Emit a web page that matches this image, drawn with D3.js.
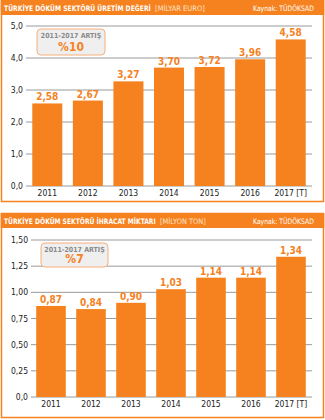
<!DOCTYPE html>
<html>
<head>
<meta charset="utf-8">
<script src="https://cdn.jsdelivr.net/npm/d3@7"></script>
<style>
  body { margin: 0; background: #fff; }
  text { font-family: "DejaVu Sans Condensed", "DejaVu Sans", sans-serif; }
</style>
</head>
<body>
<script>
var width = 325,
    height = 420;

var orange = "#f5821f";

// years on the x axis
var years = ["2011", "2012", "2013", "2014", "2015", "2016", "2017 [T]"];

// production value, billion euro
var uretim = [2.58, 2.67, 3.27, 3.70, 3.72, 3.96, 4.58];
var uretimTicks = [0, 1, 2, 3, 4, 5];
var uretimTickLabels = ["0,0", "1,0", "2,0", "3,0", "4,0", "5,0"];

// export amount, million ton
var ihracat = [0.87, 0.84, 0.90, 1.03, 1.14, 1.14, 1.34];
var ihracatTicks = [0, 0.25, 0.5, 0.75, 1, 1.25, 1.5];
var ihracatTickLabels = ["0,0", "0,25", "0,50", "0,75", "1,00", "1,25", "1,50"];

var svg = d3.select("body").append("svg")
    .attr("width", width)
    .attr("height", height)

// header text squeezed horizontally to a given width
function squeezed(g, str, x0, y0, w, bold, fill) {
    var t = g.append("text")
        .attr("font-size", 7.5)
        .attr("font-weight", bold ? "bold" : "normal")
        .attr("fill", fill)
        .text(str)
    var nat = t.node().getComputedTextLength()
    t.attr("transform", "translate(" + x0 + "," + y0 + ") scale(" + (w / nat) + ",1)")
}

function panel(o) {
    var g = svg.append("g")

    /* border and header bar */
    g.append("rect")
        .attr("x", 1.5).attr("y", o.top + 0.5)
        .attr("width", width - 3).attr("height", o.bottom - o.top - 1)
        .attr("fill", "none").attr("stroke", orange).attr("stroke-width", 1.5)
    g.append("rect")
        .attr("x", 0.75).attr("y", o.top)
        .attr("width", width - 1.5).attr("height", 15)
        .attr("fill", orange)

    squeezed(g, o.title, 4, o.top + 10.5, o.titleLen, true, "#fff")
    squeezed(g, o.unit, 4 + o.titleLen + 4, o.top + 10.5, o.unitLen, false, "#fde2c8")
    squeezed(g, "Kaynak: TÜDÖKSAD", 253, o.top + 10.5, 61, false, "#fff")

    var x = d3.scaleBand()
        .domain(years)
        .range(o.xRange)
        .paddingInner(0.26)
        .paddingOuter(0.13)

    var y = d3.scaleLinear()
        .domain([0, o.ticks[o.ticks.length - 1]])
        .range([o.y0, o.y1])

    /* grid lines */
    g.selectAll(".grid")
        .data(o.ticks)
        .enter().append("line")
        .attr("x1", o.gridX).attr("x2", 312)
        .attr("y1", function (d) { return y(d) })
        .attr("y2", function (d) { return y(d) })
        .attr("stroke", "#9a9a9a").attr("stroke-width", 1)

    g.selectAll(".ytick")
        .data(o.ticks)
        .enter().append("text")
        .attr("x", o.gridX - 3)
        .attr("y", function (d) { return y(d) + 3 })
        .attr("text-anchor", "end")
        .attr("font-size", 8.5)
        .attr("fill", "#222")
        .text(function (d, i) { return o.tickLabels[i] })

    /* bars */
    g.selectAll(".bar")
        .data(o.values)
        .enter().append("rect")
        .attr("x", function (d, i) { return x(years[i]) })
        .attr("y", function (d) { return y(d) })
        .attr("width", x.bandwidth())
        .attr("height", function (d) { return y(0) - y(d) })
        .attr("fill", orange)

    g.selectAll(".val")
        .data(o.values)
        .enter().append("text")
        .attr("x", function (d, i) { return x(years[i]) + x.bandwidth() / 2 })
        .attr("y", function (d) { return y(d) - 3 })
        .attr("text-anchor", "middle")
        .attr("font-size", 10).attr("font-weight", "bold")
        .attr("fill", orange)
        .text(function (d) { return d3.format(".2f")(d).replace(".", ",") })

    g.selectAll(".xlab")
        .data(years)
        .enter().append("text")
        .attr("x", function (d) { return x(d) + x.bandwidth() / 2 })
        .attr("y", y(0) + 10)
        .attr("text-anchor", "middle")
        .attr("font-size", 8.5)
        .attr("fill", "#222")
        .text(function (d) { return d })

    /* growth box */
    var b = o.box
    g.append("rect")
        .attr("x", b[0]).attr("y", b[1])
        .attr("width", b[2]).attr("height", b[3])
        .attr("rx", 4)
        .attr("fill", "#efefef").attr("stroke", "#f6b07a").attr("stroke-width", 1)
    g.append("text")
        .attr("x", b[0] + b[2] / 2).attr("y", b[1] + 8.5)
        .attr("text-anchor", "middle")
        .attr("font-size", 7).attr("font-weight", "bold")
        .attr("fill", "#8a8a8a")
        .text("2011-2017 ARTIŞ")
    g.append("text")
        .attr("x", b[0] + b[2] / 2).attr("y", b[1] + b[3] - 4)
        .attr("text-anchor", "middle")
        .attr("font-size", 12).attr("font-weight", "bold")
        .attr("fill", orange)
        .text(o.growth)
}

panel({
    top: 0, bottom: 202,
    title: "TÜRKİYE DÖKÜM SEKTÖRÜ ÜRETİM DEĞERİ", titleLen: 147,
    unit: "[MİLYAR EURO]", unitLen: 50,
    values: uretim, ticks: uretimTicks, tickLabels: uretimTickLabels,
    y0: 186, y1: 26, gridX: 26, xRange: [27, 311],
    box: [37, 29, 68, 26], growth: "%10"
})

panel({
    top: 213, bottom: 418,
    title: "TÜRKİYE DÖKÜM SEKTÖRÜ İHRACAT MİKTARI", titleLen: 152,
    unit: "[MİLYON TON]", unitLen: 46,
    values: ihracat, ticks: ihracatTicks, tickLabels: ihracatTickLabels,
    y0: 397, y1: 240, gridX: 31, xRange: [31, 311],
    box: [41, 243, 67, 24], growth: "%7"
})
</script>
</body>
</html>
